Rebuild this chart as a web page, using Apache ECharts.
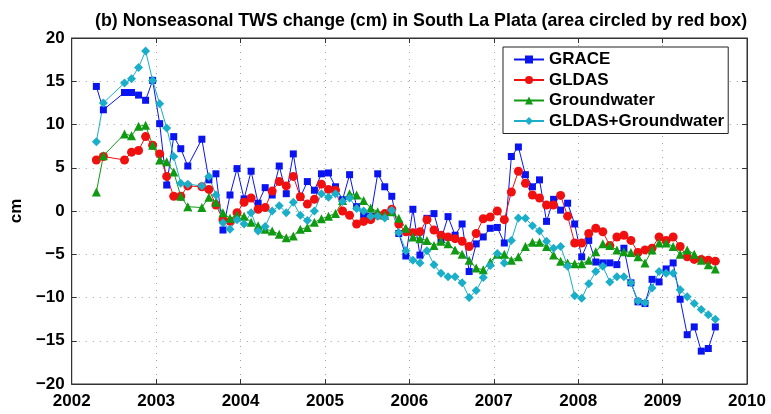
<!DOCTYPE html>
<html>
<head>
<meta charset="utf-8">
<script src="https://cdn.jsdelivr.net/npm/echarts@6/dist/echarts.min.js"></script>
<style>
html,body{margin:0;padding:0;background:#fff;}
#chart{width:771px;height:414px;}
</style>
</head>
<body>
<div id="chart"></div>
<script>
const months = ['2002-04','2002-05','2002-08','2002-09','2002-10','2002-11','2002-12',
'2003-01','2003-02','2003-03','2003-04','2003-05','2003-07','2003-08','2003-09','2003-10','2003-11','2003-12',
'2004-01','2004-02','2004-03','2004-04','2004-05','2004-06','2004-07','2004-08','2004-09','2004-10','2004-11','2004-12',
'2005-01','2005-02','2005-03','2005-04','2005-05','2005-06','2005-07','2005-08','2005-09','2005-10','2005-11','2005-12',
'2006-01','2006-02','2006-03','2006-04','2006-05','2006-06','2006-07','2006-08','2006-09','2006-10','2006-11','2006-12',
'2007-01','2007-02','2007-03','2007-04','2007-05','2007-06','2007-07','2007-08','2007-09','2007-10','2007-11','2007-12',
'2008-01','2008-02','2008-03','2008-04','2008-05','2008-06','2008-07','2008-08','2008-09','2008-10','2008-11','2008-12',
'2009-01','2009-02','2009-03','2009-04','2009-05','2009-06','2009-07','2009-08'];

const grace = [14.4,11.7,13.7,13.7,13.4,12.8,15.1,
10.1,3.0,8.6,7.2,5.2,8.3,3.6,4.3,-2.2,1.85,4.9,
1.4,4.6,0.9,2.7,1.85,5.2,2.0,6.6,1.6,3.4,2.4,4.3,
4.4,2.8,1.3,4.2,0.5,-0.4,-0.6,4.3,2.8,1.7,-2.6,-5.2,
0.2,-5.1,-0.85,-0.3,-3.3,-0.65,-2.8,-1.5,-7.0,-3.8,-3.0,-2.0,
-1.9,-3.7,6.3,7.4,4.2,2.8,3.6,-1.2,1.35,0.1,0.9,-1.5,
-5.3,-3.4,-5.9,-6.0,-6.0,-6.2,-4.3,-8.3,-10.5,-10.7,-7.9,-8.2,
-6.7,-6.0,-10.2,-14.3,-13.4,-16.2,-15.9,-13.4];

const gldas = [5.9,6.3,5.9,6.8,7.0,8.6,7.6,
6.6,4.0,1.7,1.7,2.9,2.8,2.5,0.7,-1.0,-1.2,-0.2,
1.0,1.5,0.2,0.4,2.3,3.4,2.9,4.0,1.65,0.8,1.35,3.1,
2.5,2.4,0.0,-0.5,-1.5,-1.2,-1.0,-0.5,-0.3,0.2,-1.5,-2.4,
-2.5,-2.4,-1.0,-2.2,-2.8,-3.0,-3.2,-3.5,-4.1,-2.6,-0.9,-0.7,
0.0,-1.0,2.2,4.6,3.2,1.85,1.5,0.7,0.7,1.8,-0.6,-3.7,
-3.7,-2.6,-2.0,-2.4,-4.0,-3.0,-2.8,-3.4,-4.8,-4.5,-4.3,-3.0,
-3.4,-3.0,-4.1,-5.3,-5.6,-5.6,-5.7,-5.8];

const groundwater = [2.2,6.4,8.9,8.7,9.8,9.9,7.6,
5.9,5.7,4.5,1.7,0.5,0.4,1.6,1.0,-0.2,-0.85,-0.5,
-0.6,-1.3,-1.7,-2.1,-2.3,-2.7,-3.1,-2.9,-2.1,-1.9,-1.3,-0.9,
-0.6,-0.3,1.2,2.0,1.85,1.2,0.35,-0.1,-0.5,-0.1,-0.85,-2.0,
-3.0,-3.2,-3.4,-4.0,-3.5,-3.8,-4.5,-5.0,-5.7,-6.6,-6.8,-5.9,
-5.0,-5.0,-5.7,-5.3,-4.1,-3.6,-3.6,-4.1,-5.1,-5.8,-6.0,-6.1,
-6.1,-5.7,-4.7,-3.8,-4.0,-4.5,-4.7,-4.8,-5.3,-6.0,-4.5,-3.7,
-3.7,-4.1,-5.0,-4.5,-5.0,-5.7,-6.2,-6.7];

const gldasGw = [8.0,12.5,14.8,15.3,16.6,18.5,15.1,
12.4,9.6,6.3,3.2,3.1,2.9,4.0,1.85,-1.35,-2.1,-1.0,
-1.5,-0.2,-2.3,-1.8,0.0,0.6,-0.2,1.0,-0.5,-1.1,0.0,2.0,
1.6,2.0,1.1,1.5,0.3,0.0,-0.6,-0.6,-0.8,0.1,-2.5,-4.6,
-5.7,-6.0,-4.6,-6.2,-7.2,-7.6,-7.6,-8.3,-10.0,-9.2,-7.7,-6.3,
-4.9,-6.0,-3.4,-0.8,-0.85,-1.7,-2.3,-3.5,-4.3,-4.1,-6.4,-9.8,
-10.1,-8.4,-7.0,-6.4,-8.2,-7.6,-7.6,-8.3,-10.4,-10.6,-8.9,-7.0,
-7.2,-7.2,-9.1,-9.9,-10.7,-11.4,-12.0,-12.5];

const yearTicks = [2002,2003,2004,2005,2006,2007,2008,2009,2010];
const valueTicks = [-20,-15,-10,-5,0,5,10,15,20];

function toYear(m){ const p = m.split('-'); return +p[0] + (+p[1] - 0.5)/12; }
function pairs(vals){ return months.map((m,i)=>[toYear(m), vals[i]]); }

const chart = echarts.init(document.getElementById('chart'), null, {renderer:'canvas'});
const FONT = '"Liberation Sans", Arial, sans-serif';
const splitStyle = {show:true, lineStyle:{color:'#a0a0a0', type:[1,6], width:1}};
const tickIn = {show:true, inside:true, length:5, lineStyle:{color:'#333', width:1}};
const lineAx = {show:true, onZero:false, lineStyle:{color:'#333', width:1}};

function mk(name, vals, color, symbol, size){
  return {name, type:'line', data:pairs(vals), symbol, symbolSize:size, showSymbol:true,
    lineStyle:{color, width:1}, itemStyle:{color, borderWidth:0}, emphasis:{disabled:true}, z:2};
}

chart.setOption({
  animation:false,
  backgroundColor:'#fff',
  title:{text:'(b) Nonseasonal TWS change (cm) in South La Plata (area circled by red box)',
    left:90, top:7, textStyle:{fontFamily:FONT, fontSize:17.8, fontWeight:'bold', color:'#000'}},
  grid:{left:65, right:24, top:38, bottom:30, show:true, borderColor:'#333', borderWidth:1, backgroundColor:'#fff'},
  legend:{orient:'vertical', left:503, top:47,
    backgroundColor:'#fff', borderColor:'#222', borderWidth:1, padding:[4,4,4,10],
    itemGap:3.5, itemWidth:30, itemHeight:10,
    textStyle:{fontFamily:FONT, fontSize:17, fontWeight:'bold', color:'#000', lineHeight:17},
    data:['GRACE','GLDAS','Groundwater','GLDAS+Groundwater']},
  xAxis:[{type:'value', min:yearTicks[0], max:yearTicks[yearTicks.length-1], interval:1,
      axisLine:lineAx, axisTick:tickIn, splitLine:splitStyle,
      axisLabel:{fontFamily:FONT, fontSize:17, fontWeight:'bold', color:'#000', margin:9,
        formatter:v=>String(v)}},
    {type:'value', position:'top', min:yearTicks[0], max:yearTicks[yearTicks.length-1], interval:1,
      axisLine:lineAx, axisTick:tickIn, axisLabel:{show:false}, splitLine:{show:false}}],
  yAxis:[{type:'value', min:valueTicks[0], max:valueTicks[valueTicks.length-1], interval:5,
      name:'cm', nameLocation:'middle', nameGap:40, nameRotate:90,
      nameTextStyle:{fontFamily:FONT, fontSize:17, fontWeight:'bold', color:'#000'},
      axisLine:lineAx, axisTick:tickIn, splitLine:splitStyle,
      axisLabel:{fontFamily:FONT, fontSize:17, fontWeight:'bold', color:'#000', margin:7,
        formatter:v=>v<0?'\u2212'+Math.abs(v):String(v)}},
    {type:'value', position:'right', min:valueTicks[0], max:valueTicks[valueTicks.length-1], interval:5,
      axisLine:lineAx, axisTick:tickIn, axisLabel:{show:false}, splitLine:{show:false}}],
  series:[
    mk('GRACE', grace, '#0a14f0', 'rect', 7),
    mk('GLDAS', gldas, '#f01010', 'circle', 9),
    mk('Groundwater', groundwater, '#0f9a12', 'triangle', 9),
    mk('GLDAS+Groundwater', gldasGw, '#1aaec8', 'diamond', 9)
  ]
});
</script>
</body>
</html>
